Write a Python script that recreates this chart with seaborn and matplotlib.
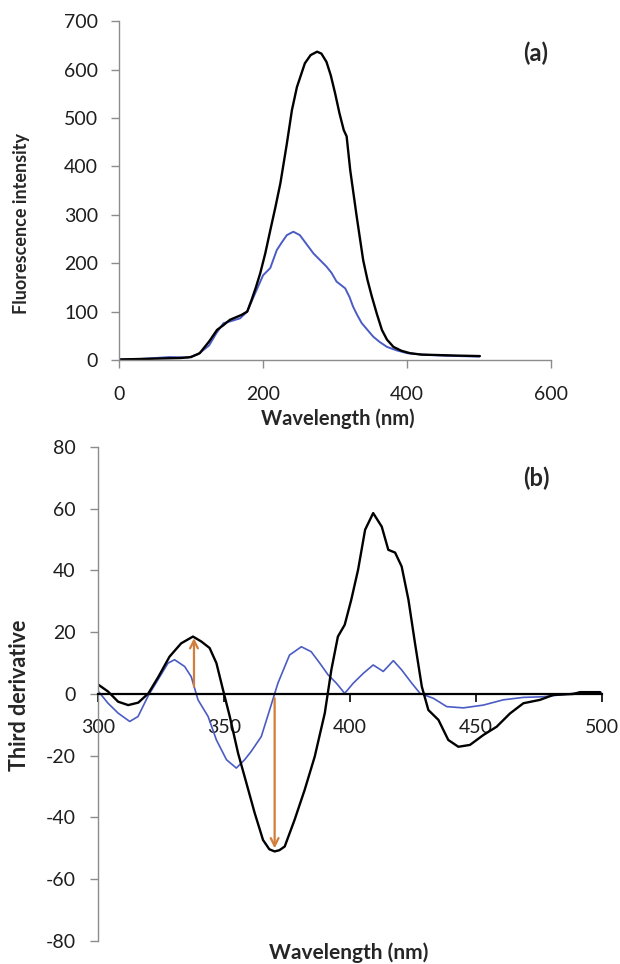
import numpy as np
import pandas as pd
import matplotlib
matplotlib.use("Agg")
import matplotlib.pyplot as plt
import seaborn as sns

# =========================
# data
# =========================
# (a) fluorescence spectra
wl_a_black = [0, 30, 57, 85, 100, 112, 125, 136, 145, 154, 162, 170, 178, 184, 190,
              196, 203, 210, 217, 224, 233, 240, 247, 258, 266, 275, 281, 288, 294,
              300, 306, 312, 316, 321, 330, 339, 345, 351, 358, 365, 372, 381, 392,
              404, 420, 446, 470, 501]
fi_black = [1, 2, 3, 4, 6, 14, 38, 62, 72, 83, 88, 93, 100, 124, 150,
            179, 220, 268, 315, 365, 447, 516, 564, 613, 630, 637, 633, 616, 588,
            551, 510, 475, 462, 392, 296, 206, 165, 131, 95, 62, 42, 27, 19,
            14, 11, 10, 9, 8]

wl_a_blue = [0, 30, 50, 70, 96, 110, 125, 135, 145, 155, 168, 178, 187, 200, 210,
             219, 226, 233, 242, 251, 260, 270, 280, 288, 295, 302, 308, 314, 320,
             325, 331, 337, 345, 353, 362, 372, 385, 400, 423, 450, 473, 500]
fi_blue = [1, 2, 4, 6, 5, 12, 30, 55, 76, 80, 86, 100, 131, 175, 190,
           227, 243, 258, 265, 258, 240, 220, 205, 193, 180, 162, 155, 148, 130,
           110, 92, 76, 62, 48, 37, 27, 20, 14, 11, 9, 8, 7]

# (b) third derivative
wl_b_black = [300, 304, 308, 312, 316, 320, 324, 328.4, 333, 337.7, 341, 344.3, 347,
              349.6, 352.3, 355.6, 358.2, 362.2, 365.5, 368, 370.1, 372, 374.1, 378,
              382, 386, 390, 392.6, 395.2, 397.9, 400.5, 403.2, 406, 409.2, 412.6,
              415.2, 417.9, 420.5, 423.2, 425.8, 428.5, 431.1, 435.1, 439, 443,
              447.6, 452.9, 458.2, 463.5, 468.8, 475.4, 480.7, 488.6, 491.3, 499.2]
d3_black = [3.1, 0.8, -2.5, -3.6, -2.8, 0.2, 5.6, 12.1, 16.4, 18.6, 17, 14.9, 10,
            1.4, -7.3, -19.2, -26.8, -38.6, -47.3, -50.3, -51, -50.6, -49.4, -40.8,
            -31.1, -20.3, -6.2, 7.8, 18.6, 22.4, 30.5, 40.2, 53.2, 58.6, 54.2,
            46.7, 45.8, 41.3, 30.5, 16.4, 2.4, -5.2, -8.4, -14.9, -17.1,
            -16.5, -13.3, -10.6, -6.3, -3, -1.9, -0.3, 0, 0.6, 0.6]

wl_b_blue = [300, 304, 308, 312.6, 315.9, 319.8, 323.8, 327.8, 330.4, 334.4, 337,
             339.7, 343.7, 347, 351, 354.9, 358.2, 360.8, 364.8, 368.1, 371.4, 376,
             380.7, 384.6, 388, 391.3, 394.6, 397.9, 401.3, 405.3, 409.2, 413.2,
             417.2, 420.5, 424.5, 427.8, 433.1, 438.4, 445, 452.9, 460.8, 468.8,
             476.7, 483.3, 490, 500]
d3_blue = [1, -3, -6.2, -8.9, -7.3, -0.8, 4.6, 10, 11.1, 8.9, 5.6,
           -1.9, -7.3, -14.9, -21.3, -24, -21.3, -18.6, -13.8, -5.2, 3.5, 12.6,
           15.3, 13.7, 10, 6.2, 3.5, 0.2, 3.5, 6.7, 9.4, 7.3,
           10.8, 7.8, 3.5, 0.2, -1.4, -4.1, -4.5, -3.6, -1.9, -1.1,
           -0.9, -0.3, 0.3, 0.5]

# arrows: (x, y_start, y_end)
arrow_up = (338.1, 2.4, 18.1)
arrow_down = (370.1, -1.4, -50)

# ----------------------------
# style
# ----------------------------
sns.set_style("ticks")
plt.rcParams["font.family"] = ["Lato", "DejaVu Sans"]
plt.rcParams["axes.unicode_minus"] = False

BLACK = "#000000"
BLUE = "#4a5cc4"
ORANGE = "#d27d3a"
GRAY = "#8c8c8c"
TXT = "#1e1e1e"

fig = plt.figure(figsize=(6.2, 9.64), dpi=100)
ax1 = fig.add_axes([0.192, 0.6266, 0.697, 0.3514])
ax2 = fig.add_axes([0.158, 0.0239, 0.813, 0.5124])

# ----------------------------
# (a)
# ----------------------------
sns.lineplot(x=wl_a_blue, y=fi_blue, color=BLUE, lw=1.4, ax=ax1)
sns.lineplot(x=wl_a_black, y=fi_black, color=BLACK, lw=1.7, ax=ax1)

ax1.set_xlim(0, 600)
ax1.set_ylim(0, 700)
ax1.set_xticks([0, 200, 400, 600])
ax1.set_yticks(range(0, 701, 100))
sns.despine(ax=ax1)
for s in ["left", "bottom"]:
    ax1.spines[s].set_color(GRAY)
    ax1.spines[s].set_linewidth(1.0)
ax1.tick_params(axis="both", direction="out", length=6, width=1.0, color=GRAY,
                labelsize=14, labelcolor=TXT)
ax1.tick_params(axis="x", pad=13)
ax1.tick_params(axis="y", pad=9)
ax1.set_xlabel("Wavelength (nm)", fontsize=14.5, fontweight="bold")
ax1.set_ylabel("Fluorescence intensity", fontsize=13, fontweight="bold")
ax1.xaxis.set_label_coords(0.507, -0.142)
ax1.yaxis.set_label_coords(-0.205, 0.404)
ax1.text(579, 634, "(a)", fontsize=17, fontweight="bold", ha="center", va="center")

# ----------------------------
# (b)
# ----------------------------
sns.lineplot(x=wl_b_blue, y=d3_blue, color=BLUE, lw=1.2, ax=ax2)
sns.lineplot(x=wl_b_black, y=d3_black, color=BLACK, lw=1.7, ax=ax2)

for xa, y0, y1 in [arrow_up, arrow_down]:
    ax2.annotate("", xy=(xa, y1), xytext=(xa, y0),
                 arrowprops=dict(arrowstyle="->", color=ORANGE, lw=1.6,
                                 mutation_scale=14, shrinkA=0, shrinkB=0))

ax2.set_xlim(300, 500)
ax2.set_ylim(-80, 80)
ax2.set_xticks(range(300, 501, 50))
ax2.set_yticks(range(-80, 81, 20))
sns.despine(ax=ax2)
ax2.spines["bottom"].set_position(("data", 0))
ax2.spines["bottom"].set_color(BLACK)
ax2.spines["bottom"].set_linewidth(1.6)
ax2.spines["left"].set_color(GRAY)
ax2.spines["left"].set_linewidth(1.0)
ax2.tick_params(axis="y", direction="out", length=6, width=1.0, color=GRAY,
                labelsize=14, labelcolor=TXT, pad=10)
ax2.tick_params(axis="x", direction="out", length=6, width=1.2, color=BLACK,
                labelsize=14, labelcolor=TXT, pad=12)
ax2.set_xlabel("Wavelength (nm)", fontsize=15, fontweight="bold")
ax2.set_ylabel("Third derivative", fontsize=15.5, fontweight="bold")
ax2.xaxis.set_label_coords(0.498, -0.002)
ax2.yaxis.set_label_coords(-0.135, 0.498)
ax2.text(474, 70, "(b)", fontsize=17, fontweight="bold", ha="center", va="center")

fig.savefig("out.png", dpi=100, facecolor="white")
